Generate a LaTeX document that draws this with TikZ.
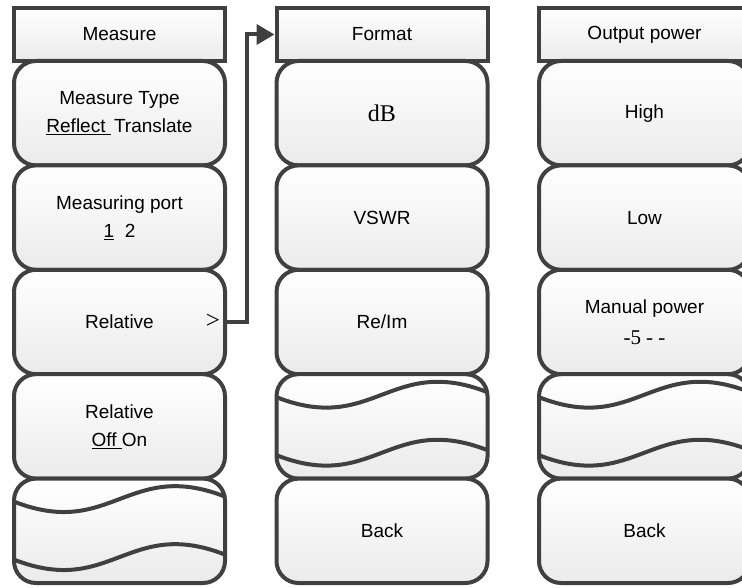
\documentclass[tikz,border=0pt]{standalone}
\usepackage{fontspec}
\setmainfont{Liberation Sans}
\newfontfamily\timesfont{Liberation Serif}
\usetikzlibrary{arrows.meta,calc}
\definecolor{keyedge}{RGB}{64,64,64}
\tikzset{
  menu/.style={draw=keyedge, line width=4pt, top color=white, bottom color=black!8,
    minimum width=211pt, inner sep=0pt, align=center,
    font=\fontsize{19}{28}\selectfont},
  titlebox/.style={menu, minimum height=53pt},
  keybox/.style={menu, rounded corners=22pt, minimum height=104.4pt},
  wavy/.style={draw=keyedge, line width=4pt},
  link/.style={draw=keyedge, line width=4pt, -{Triangle[length=18pt,width=20pt]}}
}
\begin{document}
\begin{tikzpicture}[x=1pt, y=-1pt]
        \useasboundingbox (0,0) rectangle (742,588);

        %Measure
        \node[titlebox] (meas) at (119.5,34.5) {Measure};
        \node[keybox] (mtype) at (119.5,113.2) {Measure Type\\\underline{Reflect~}\,Translate};
        \node[keybox] (mport) at (119.5,217.6) {Measuring port\\\underline{1}\ \ 2};
        \node[keybox] (rel) at (119.5,322) {Relative};
        \node[keybox] (reloo) at (119.5,426.4) {Relative\\\underline{Off~}On};
        \node[keybox] (mwave) at (119.5,530.8) {};
        \node[font=\timesfont\fontsize{25}{28}\selectfont] (more) at (213,321) {>};

        %Format
        \node[titlebox] (fmt) at (382,34.5) {Format};
        \node[keybox] (db) at (382,113.2) {\timesfont\fontsize{24}{28}\selectfont dB};
        \node[keybox] (vswr) at (382,217.6) {VSWR};
        \node[keybox] (reim) at (382,322) {Re/Im};
        \node[keybox] (fwave) at (382,426.4) {};
        \node[keybox] (fback) at (382,530.8) {Back};

        %Output power
        \node[titlebox] (outp) at (644.5,34.5) {Output power};
        \node[keybox] (high) at (644.5,113.2) {High};
        \node[keybox] (low) at (644.5,217.6) {Low};
        \node[keybox] (manp) at (644.5,322) {Manual power\\[3pt]{\timesfont\fontsize{21}{28}\selectfont -5 - -}};
        \node[keybox] (owave) at (644.5,426.4) {};
        \node[keybox] (oback) at (644.5,530.8) {Back};

        %onde
        \foreach \w in {mwave,fwave,owave}{
          \draw[wavy] ($(\w.north west)+(2,25)$) .. controls +(97,38) and +(-97,-38) .. ($(\w.north east)+(-2,20)$);
          \draw[wavy] ($(\w.north west)+(2,83)$) .. controls +(97,38) and +(-97,-38) .. ($(\w.north east)+(-2,78)$);
        }

        %collegamento
        \draw[link] (rel.east) -- ++(20,0) |- (fmt.west);
    \end{tikzpicture}
\end{document}
